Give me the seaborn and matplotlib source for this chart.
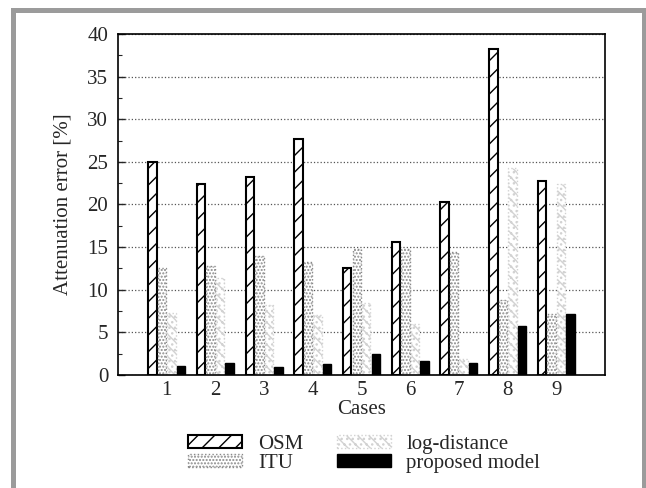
import numpy as np
import pandas as pd
import matplotlib.pyplot as plt
from matplotlib.patches import Rectangle
from matplotlib.ticker import MultipleLocator
import seaborn as sns

cases = ['1', '2', '3', '4', '5', '6', '7', '8', '9']
models = ['OSM', 'ITU', 'log-distance', 'proposed model']

osm = [25.0, 22.4, 23.2, 27.7, 12.6, 15.6, 20.3, 38.2, 22.7]
itu = [12.5, 12.8, 13.9, 13.2, 14.8, 14.8, 14.4, 8.8, 7.2]
log_distance = [7.3, 11.4, 8.2, 7.0, 8.5, 6.0, 1.9, 24.3, 22.4]
proposed = [1.05, 1.4, 0.9, 1.3, 2.5, 1.6, 1.4, 5.7, 7.2]

df = pd.DataFrame({
    'case': cases * 4,
    'model': np.repeat(models, len(cases)),
    'error': osm + itu + log_distance + proposed,
})

sns.set_style('ticks')
plt.rcParams['font.family'] = ['Liberation Serif', 'DejaVu Serif']
plt.rcParams['hatch.linewidth'] = 1.0

fig = plt.figure(figsize=(6.46, 4.88), dpi=100)
ax = fig.add_axes([0.1827, 0.2316, 0.7538, 0.6987])

sns.barplot(data=df, x='case', y='error', hue='model', hue_order=models,
            palette=['white', 'white', 'white', 'black'], saturation=1,
            width=0.78, gap=0.12, legend=False, ax=ax)

# bar styles: face, edge, hatch, linestyle, linewidth
styles = [
    ('white', 'black', '//', '-', 1.5),
    ('white', '#8a8a8a', '.....', ':', 1.0),
    ('white', '#d2d2d2', '\\\\\\...', ':', 1.0),
    ('black', 'black', None, '-', 1.0),
]
for cont, (fc, ec, h, ls, lw) in zip(ax.containers, styles):
    for p in cont.patches:
        p.set_facecolor(fc)
        p.set_edgecolor(ec)
        p.set_hatch(h)
        p.set_linestyle(ls)
        p.set_linewidth(lw)

ax.set_xlim(-1, 9)
ax.set_ylim(0, 40)
ax.yaxis.set_major_locator(MultipleLocator(5))
ax.yaxis.set_minor_locator(MultipleLocator(2.5))
ax.grid(axis='y', linestyle=':', color='#555555', linewidth=0.9)
ax.set_axisbelow(True)
ax.tick_params(axis='y', which='major', direction='in', length=5, width=1,
               labelsize=15, pad=7, right=False)
ax.tick_params(axis='y', which='minor', direction='in', length=3, width=0.8)
ax.tick_params(axis='x', length=0, labelsize=15, pad=4)
for s in ax.spines.values():
    s.set_visible(True)
    s.set_color('black')
    s.set_linewidth(1.2)

ax.set_xlabel('Cases', fontsize=15, labelpad=0)
ax.set_ylabel('Attenuation error [%]', fontsize=15, labelpad=11)

fig.legend(handles=[c.patches[0] for c in ax.containers], labels=models,
           loc='upper center', bbox_to_anchor=(0.564, 0.109), ncol=2,
           frameon=False, fontsize=15, handlelength=2.6, handleheight=0.55,
           handletextpad=0.75, columnspacing=1.6, labelspacing=0.0,
           borderpad=0, borderaxespad=0)

frame = Rectangle((13.5 / 646, -0.2), 630 / 646, 1.2 - 9.5 / 488,
                  transform=fig.transFigure, fill=False,
                  edgecolor='#9b9b9b', linewidth=3.6, zorder=10)
fig.patches.append(frame)

fig.savefig('out.png', dpi=100)
